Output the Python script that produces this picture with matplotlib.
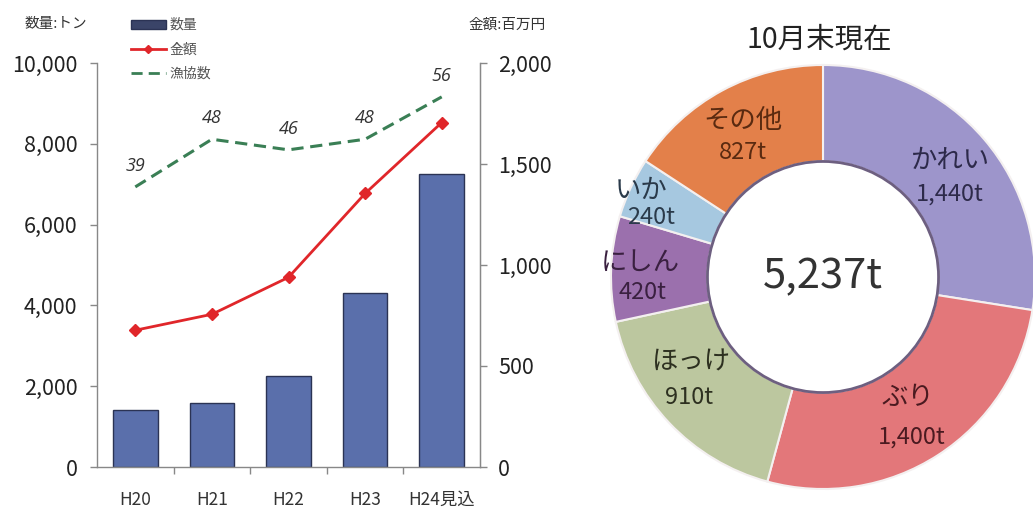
import matplotlib
matplotlib.use("Agg")
import matplotlib.pyplot as plt
from matplotlib.patches import Patch, Circle
from matplotlib.lines import Line2D
from matplotlib.ticker import FuncFormatter, FixedLocator

plt.rcParams['font.family'] = ['Noto Sans CJK JP', 'DejaVu Sans']

# ---- data ----
years = ["H20", "H21", "H22", "H23", "H24見込"]
quantity_t = [1420, 1590, 2250, 4300, 7250]          # 数量 (トン)
amount_myen = [677, 756, 939, 1354, 1705]             # 金額 (百万円)
coop_count = [39, 48, 46, 48, 56]                     # 漁協数

species = ["かれい", "ぶり", "ほっけ", "にしん", "いか", "その他"]
species_t = [1440, 1400, 910, 420, 240, 827]
total_label = "5,237t"
pie_title = "10月末現在"

W, H = 1033, 509
fig = plt.figure(figsize=(W / 100, H / 100), dpi=100)
fig.patch.set_facecolor('white')

# ---- left combo chart ----
ax = fig.add_axes([97 / W, 42 / H, 383 / W, 404 / H])
x = list(range(len(years)))
ax.bar(x, quantity_t, width=0.58, color='#5a6fab', edgecolor='#2b3354', linewidth=1.0, zorder=2)
ax.set_xlim(-0.5, len(years) - 0.5)
ax.set_ylim(0, 10000)
ax.set_yticks([0, 2000, 4000, 6000, 8000, 10000])
ax.yaxis.set_major_formatter(FuncFormatter(lambda v, p: f"{v:,.0f}"))
ax.set_xticks(x)
ax.set_xticklabels(years)
ax.xaxis.set_minor_locator(FixedLocator([i + 0.5 for i in x[:-1]]))
ax.tick_params(axis='x', which='major', length=0, pad=17, labelsize=12.5, labelcolor='#333333')
ax.tick_params(axis='x', which='minor', length=5, width=1, color='#888888', direction='out')
ax.tick_params(axis='y', length=5, width=1, color='#888888', pad=9, labelsize=15.5, labelcolor='#222222')
ax.spines['top'].set_visible(False)
for s in ['left', 'bottom', 'right']:
    ax.spines[s].set_color('#888888')
    ax.spines[s].set_linewidth(1.0)
ax.set_facecolor('none')

ax2 = ax.twinx()
ax2.set_ylim(0, 2000)
ax2.set_yticks([0, 500, 1000, 1500, 2000])
ax2.yaxis.set_major_formatter(FuncFormatter(lambda v, p: f"{v:,.0f}"))
ax2.tick_params(axis='y', length=5, width=1, color='#888888', pad=8, labelsize=15.5, labelcolor='#222222')
ax2.spines['top'].set_visible(False)
ax2.spines['right'].set_color('#888888')
ax2.spines['left'].set_visible(False)
ax2.spines['bottom'].set_visible(False)
ax2.plot(x, amount_myen, color='#e0262a', linewidth=2, marker='D', markersize=6,
         markerfacecolor='#e0262a', markeredgecolor='#e0262a', zorder=4)

ax3 = ax.twinx()
ax3.set_ylim(-13.9, 62.4)
ax3.axis('off')
ax3.plot(x, coop_count, color='#3a7f55', linewidth=2.2, linestyle=(0, (4, 2.2)), zorder=3)
for xi, v in zip(x, coop_count):
    ax3.annotate(str(v), (xi, v), xytext=(0, 15), textcoords='offset points',
                 ha='center', va='center', fontsize=13, style='italic', color='#333333',
                 family=['Open Sans', 'DejaVu Sans'])

fig.text(56 / W, 1 - 24 / H, "数量:トン", ha='center', va='center', fontsize=10.5, color='#333333')
fig.text(507 / W, 1 - 25 / H, "金額:百万円", ha='center', va='center', fontsize=10.5, color='#333333')

handles = [
    Patch(facecolor='#3a4468', edgecolor='#2b3354'),
    Line2D([], [], color='#e0262a', linewidth=2, marker='D', markersize=4),
    Line2D([], [], color='#3a7f55', linewidth=2, linestyle=(0, (4, 2.2))),
]
fig.legend(handles, ["数量", "金額", "漁協数"], loc='upper left',
           bbox_to_anchor=(131 / W, 1 - 18 / H), frameon=False, fontsize=10,
           handlelength=2.5, handleheight=0.6, labelspacing=0.75, handletextpad=0.3,
           labelcolor='#555555', borderaxespad=0, borderpad=0)

# ---- right donut chart ----
cx, cy, R = 823, 277, 212
pax = fig.add_axes([(cx - R) / W, (H - cy - R) / H, 2 * R / W, 2 * R / H])
colors = ['#9d95cb', '#e3777a', '#bcc79f', '#9b70ad', '#a6c8e0', '#e3804a']
pax.pie(species_t, startangle=90, counterclock=False, colors=colors, radius=1.0,
        wedgeprops=dict(width=0.455, edgecolor='#f4f0f0', linewidth=1.5))
pax.set_xlim(-1, 1)
pax.set_ylim(-1, 1)
pax.set_aspect('equal')
pax.axis('off')
pax.add_patch(Circle((0, 0), 0.545, facecolor='white', edgecolor='#6d5f80', linewidth=2, zorder=5))
pax.text(0, 0, total_label, ha='center', va='center', fontsize=30, color='#333333', zorder=6)
fig.text(819 / W, 1 - 40 / H, pie_title, ha='center', va='center', fontsize=20.5, color='#222222')

name_pos = [(0.60, 0.55), (0.40, -0.57), (-0.62, -0.40), (-0.86, 0.07), (-0.86, 0.41), (-0.38, 0.74)]
val_pos = [(0.60, 0.39), (0.42, -0.755), (-0.63, -0.57), (-0.85, -0.075), (-0.81, 0.28), (-0.38, 0.585)]
name_colors = ['#2d2a4a', '#4a1a20', '#2d3020', '#3a2040', '#2a3a4a', '#5a2a10']
for name, v, npos, vpos, nc in zip(species, species_t, name_pos, val_pos, name_colors):
    pax.text(npos[0], npos[1], name, ha='center', va='center', fontsize=19, color=nc, zorder=6)
    pax.text(vpos[0], vpos[1], f"{v:,}t", ha='center', va='center', fontsize=17, color=nc, zorder=6)

fig.savefig("out.png", dpi=100, facecolor='white')
